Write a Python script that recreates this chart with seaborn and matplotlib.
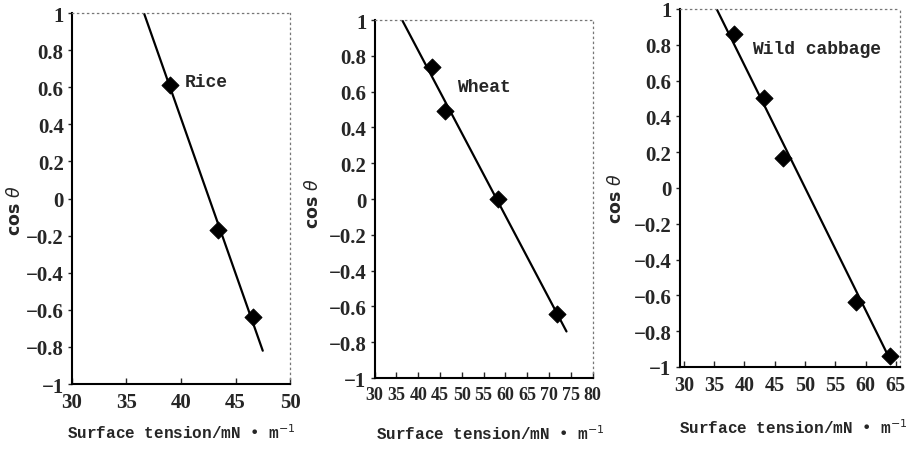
import seaborn as sns
import matplotlib.pyplot as plt
import pandas as pd

## crop data
crops = ["Rice", "Wheat", "Wild cabbage"]

rice_tension = [39.0, 43.4, 46.6]
rice_cos = [0.61, -0.17, -0.64]
rice_line_x = [36.6, 47.5]
rice_line_y = [1.0, -0.82]

wheat_tension = [43.1, 46.2, 58.2, 71.8]
wheat_cos = [0.74, 0.49, 0.0, -0.64]
wheat_line_x = [36.3, 74.0]
wheat_line_y = [1.0, -0.74]

cabbage_tension = [38.2, 43.2, 46.4, 58.4, 64.0]
cabbage_cos = [0.86, 0.50, 0.17, -0.64, -0.94]
cabbage_line_x = [35.4, 64.2]
cabbage_line_y = [1.0, -0.97]

rice_xticks = [30, 35, 40, 45, 50]
wheat_xticks = [30, 35, 40, 45, 50, 55, 60, 65, 70, 75, 80]
cabbage_xticks = [30, 35, 40, 45, 50, 55, 60, 65]
yticks = [1, 0.8, 0.6, 0.4, 0.2, 0, -0.2, -0.4, -0.6, -0.8, -1]
ytick_labels = ["1", "0.8", "0.6", "0.4", "0.2", "0", "\u22120.2", "\u22120.4",
                "\u22120.6", "\u22120.8", "\u22121"]

sns.set_style("ticks")
plt.rcParams['font.family'] = ['Liberation Serif', 'DejaVu Serif']
mono = ['Liberation Mono', 'DejaVu Sans Mono']

fig = plt.figure(figsize=(9.16, 4.52), dpi=100)

panels = [
    dict(name=crops[0], x=rice_tension, y=rice_cos, lx=rice_line_x, ly=rice_line_y,
         xticks=rice_xticks, xlim=(30, 50), rect=[0.0786, 0.148, 0.238, 0.821],
         label_xy=(40.3, 0.63), xlab=(0.198, 0.022), ylab=(0.016, 0.535), xsize=15),
    dict(name=crops[1], x=wheat_tension, y=wheat_cos, lx=wheat_line_x, ly=wheat_line_y,
         xticks=wheat_xticks, xlim=(30, 80), rect=[0.409, 0.1615, 0.238, 0.792],
         label_xy=(48.8, 0.63), xlab=(0.535, 0.020), ylab=(0.342, 0.55), xsize=13),
    dict(name=crops[2], x=cabbage_tension, y=cabbage_cos, lx=cabbage_line_x, ly=cabbage_line_y,
         xticks=cabbage_xticks, xlim=(29.3, 65.6), rect=[0.742, 0.186, 0.240, 0.792],
         label_xy=(41.2, 0.78), xlab=(0.866, 0.033), ylab=(0.673, 0.56), xsize=14.5),
]

for p in panels:
    ax = fig.add_axes(p['rect'])
    line_df = pd.DataFrame({'x': p['lx'], 'y': p['ly']})
    pts_df = pd.DataFrame({'x': p['x'], 'y': p['y']})
    sns.lineplot(data=line_df, x='x', y='y', ax=ax, color='black', linewidth=1.6)
    sns.scatterplot(data=pts_df, x='x', y='y', ax=ax, marker='D', s=75,
                    color='black', edgecolor='black', zorder=3)
    ax.set_xlim(*p['xlim'])
    ax.set_ylim(-1, 1)
    ax.set_xticks(p['xticks'])
    ax.set_xticklabels([str(t) for t in p['xticks']])
    ax.set_yticks(yticks)
    ax.set_yticklabels(ytick_labels)
    ax.tick_params(axis='x', direction='in', length=4, width=1, pad=6, labelsize=p['xsize'])
    ax.tick_params(axis='y', direction='out', length=3, width=1, pad=3, labelsize=15)
    for lab in ax.get_xticklabels() + ax.get_yticklabels():
        lab.set_fontweight('bold')
    ax.set_xlabel('')
    ax.set_ylabel('')
    for side in ['left', 'bottom']:
        ax.spines[side].set_linewidth(1.5)
        ax.spines[side].set_color('black')
    for side in ['top', 'right']:
        ax.spines[side].set_linestyle((0, (1, 3)))
        ax.spines[side].set_color('#777777')
        ax.spines[side].set_linewidth(0.9)
    ax.text(p['label_xy'][0], p['label_xy'][1], p['name'], family=mono,
            fontsize=13, fontweight='bold', va='center', ha='left')
    fig.text(p['xlab'][0], p['xlab'][1], 'Surface tension/mN \u2022 m$^{-1}$',
             family=mono, fontsize=11.5, fontweight='bold', ha='center', va='bottom')
    fig.text(p['ylab'][0], p['ylab'][1], 'cos $\\theta$', family=['DejaVu Sans'],
             fontsize=12.5, fontweight='bold', rotation=90, ha='center', va='center')

fig.savefig('out.png', dpi=100)
